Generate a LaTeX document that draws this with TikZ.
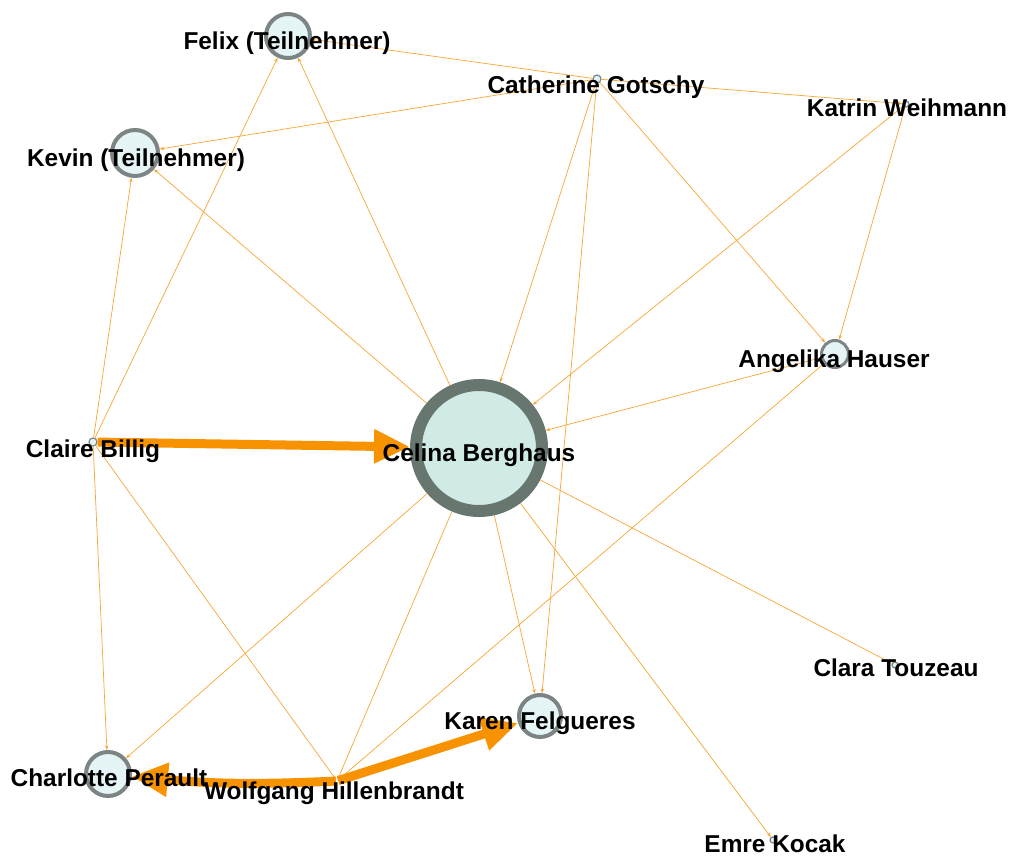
\documentclass[tikz,border=0pt]{standalone}
\usepackage{fontspec}
\setmainfont{Liberation Sans}
\usetikzlibrary{arrows.meta}
\definecolor{edgeor}{RGB}{247,166,52}
\definecolor{flowor}{RGB}{247,146,0}
\definecolor{ringbig}{RGB}{104,118,112}
\definecolor{ringsm}{RGB}{124,132,132}
\definecolor{fillbig}{RGB}{208,235,229}
\definecolor{fillsm}{RGB}{229,244,245}
\tikzset{
  actor/.style={circle, draw=ringsm, fill=fillsm, inner sep=0pt},
  hub/.style={circle, draw=ringbig, fill=fillbig, inner sep=0pt, line width=12pt, minimum size=126pt},
  mid/.style={actor, line width=4pt, minimum size=44pt},
  tiny/.style={actor, line width=1.2pt, minimum size=8pt},
  lbl/.style={anchor=base, inner sep=0pt, font=\fontsize{24.4}{28}\selectfont\bfseries},
  tie/.style={draw=edgeor, line width=0.7pt, -{Stealth[length=4.5pt,width=3.5pt]}},
  flow/.style={draw=flowor, line width=9pt, -{Triangle[length=36pt,width=32pt]}}
}
\begin{document}
\begin{tikzpicture}[x=1pt,y=-1pt]
\useasboundingbox (0,0) rectangle (1015,859);
% people
\node[hub] (celina) at (479,448) {};
\node[mid] (felix) at (288,36) {};
\node[mid, minimum size=46pt] (kevin) at (135,153) {};
\node[mid, minimum size=42pt] (karen) at (540,716) {};
\node[mid] (charlotte) at (108,774) {};
\node[actor, line width=3pt, minimum size=27pt] (angelika) at (835,354) {};
\node[tiny] (catherine) at (597,79) {};
\node[tiny] (claire) at (93,442) {};
\node[tiny, minimum size=6pt] (katrin) at (906,104) {};
\node[tiny, minimum size=6pt] (clara) at (895,665) {};
\node[tiny, minimum size=6pt] (emre) at (773,840) {};
\node[inner sep=0pt, minimum size=2pt] (wolfgang) at (337,781) {};
% thin ties
\draw[tie] (catherine) -- (felix);
\draw[tie] (catherine) -- (katrin);
\draw[tie] (catherine) -- (kevin);
\draw[tie] (celina) -- (kevin);
\draw[tie] (claire) -- (kevin);
\draw[tie] (claire) -- (felix);
\draw[tie] (celina) -- (felix);
\draw[tie] (catherine) -- (celina);
\draw[tie] (catherine) -- (karen);
\draw[tie] (catherine) -- (angelika);
\draw[tie] (katrin) -- (celina);
\draw[tie] (katrin) -- (angelika);
\draw[tie] (angelika) -- (celina);
\draw[tie] (angelika) -- (wolfgang);
\draw[tie] (claire) -- (wolfgang);
\draw[tie] (claire) -- (charlotte);
\draw[tie] (celina) -- (charlotte);
\draw[tie] (celina) -- (wolfgang);
\draw[tie] (celina) -- (karen);
\draw[tie] (celina) -- (clara);
\draw[tie] (celina) -- (emre);
% strong flows
\draw[flow] (claire) -- (celina);
\draw[flow] (wolfgang) to[bend left=4] (charlotte);
\draw[flow] (wolfgang) -- (karen);
% names
\node[lbl] (celinaL) at (479,461) {Celina Berghaus};
\node[lbl] (felixL) at (287,50) {Felix (Teilnehmer)};
\node[lbl] (kevinL) at (136,166) {Kevin (Teilnehmer)};
\node[lbl] (catherineL) at (596,93) {Catherine Gotschy};
\node[lbl] (katrinL) at (907,116) {Katrin Weihmann};
\node[lbl] (angelikaL) at (834,367) {Angelika Hauser};
\node[lbl] (claireL) at (93,457) {Claire Billig};
\node[lbl] (claraL) at (896,676) {Clara Touzeau};
\node[lbl] (emreL) at (775,852) {Emre Kocak};
\node[lbl] (karenL) at (540,729) {Karen Felgueres};
\node[lbl] (charlotteL) at (109,786) {Charlotte Perault};
\node[lbl] (wolfgangL) at (334,799) {Wolfgang Hillenbrandt};
\end{tikzpicture}
\end{document}
